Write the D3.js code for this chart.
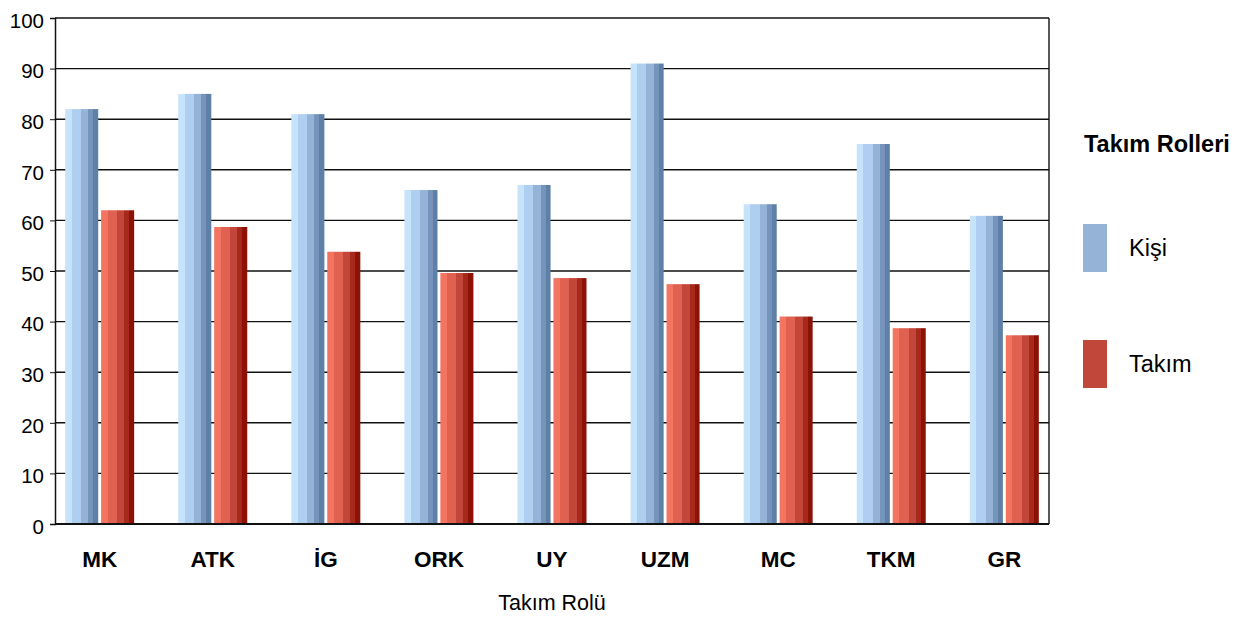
<!DOCTYPE html>
<html><head><meta charset="utf-8">
<script src="https://cdn.jsdelivr.net/npm/d3@7"></script>
<style>body{margin:0;background:#fff;font-family:"Liberation Sans",Arial,sans-serif;}</style>
</head><body>
<svg id="chart" width="1251" height="619"></svg>
<script>
const categories = ["MK","ATK","İG","ORK","UY","UZM","MC","TKM","GR"];
const seriesNames = ["Kişi","Takım"];
const kisiValues = [82,85,81,66,67,91,63.2,75.1,60.9];
const takimValues = [62,58.7,53.8,49.6,48.6,47.4,41,38.7,37.3];
const yTicks = [0,10,20,30,40,50,60,70,80,90,100];
const legendTitle = "Takım Rolleri";
const xTitle = "Takım Rolü";

const svg = d3.select("#chart");
const m = {l:55, r:1049, t:18, b:524};
const x = d3.scaleBand().domain(categories).range([m.l, m.r]).paddingInner(0.39).paddingOuter(0.09);
const xs = d3.scaleBand().domain(seriesNames).range([0, x.bandwidth()]).paddingInner(0.08);
const y = d3.scaleLinear().domain([0,100]).range([m.b, m.t]);

const defs = svg.append("defs");
function stripes(id, cols){
  const g = defs.append("linearGradient").attr("id",id).attr("x1","0").attr("x2","1").attr("y1","0").attr("y2","0");
  const edges=[0,0.2,0.48,0.7,0.85,1];
  cols.forEach((c,i)=>{
    g.append("stop").attr("offset",edges[i]).attr("stop-color",c);
    g.append("stop").attr("offset",edges[i+1]).attr("stop-color",c);
  });
}
stripes("gKisi",["#c6e3fb","#afcff0","#95b3d7","#7494bb","#5f80a6"]);
stripes("gTakim",["#f27461","#e06150","#c2473a","#a6291c","#8c1205"]);

// gridlines
svg.append("g").selectAll("line").data(yTicks).join("line")
  .attr("x1",m.l).attr("x2",m.r).attr("y1",d=>y(d)).attr("y2",d=>y(d))
  .attr("stroke","#111").attr("stroke-width",1.4);
// right frame
svg.append("line").attr("x1",m.r).attr("x2",m.r).attr("y1",m.t).attr("y2",m.b).attr("stroke","#111").attr("stroke-width",1.4);

const data = categories.map((c,i)=>({c, vals:[{s:"Kişi",v:kisiValues[i]},{s:"Takım",v:takimValues[i]}]}));
const grp = svg.append("g").selectAll("g").data(data).join("g").attr("transform",d=>`translate(${x(d.c)},0)`);
grp.selectAll("rect").data(d=>d.vals).join("rect")
  .attr("x",d=>xs(d.s)).attr("width",xs.bandwidth())
  .attr("y",d=>y(d.v)).attr("height",d=>y(0)-y(d.v))
  .attr("fill",d=>d.s==="Kişi"?"url(#gKisi)":"url(#gTakim)");

// y axis
const ya = svg.append("g").attr("transform",`translate(${m.l},0)`)
  .call(d3.axisLeft(y).tickValues(yTicks).tickSize(5).tickPadding(6));
ya.select(".domain").attr("stroke","#111").attr("stroke-width",1.5);
ya.selectAll(".tick line").attr("stroke","#111");
ya.selectAll("text").attr("font-size",20.5).attr("fill","#000").attr("dy","0.45em").attr("font-family","Liberation Sans, Arial, sans-serif");

// x axis baseline
svg.append("line").attr("x1",m.l).attr("x2",m.r).attr("y1",m.b).attr("y2",m.b).attr("stroke","#111").attr("stroke-width",2);

// x labels
svg.append("g").selectAll("text").data(categories).join("text")
  .attr("x",d=>x(d)+x.bandwidth()/2).attr("y",567)
  .attr("text-anchor","middle").attr("font-size",22.5).attr("font-weight","bold").text(d=>d);

svg.append("text").attr("x",(m.l+m.r)/2).attr("y",610).attr("text-anchor","middle").attr("font-size",21.5).text(xTitle);

// legend
svg.append("text").attr("x",1084).attr("y",152).attr("font-size",23.5).attr("font-weight","bold").text(legendTitle);
const legCols = ["#95b3d7","#c0473a"];
const leg = svg.append("g").selectAll("g").data(seriesNames).join("g").attr("transform",(d,i)=>`translate(1083,${224+i*116})`);
leg.append("rect").attr("width",24).attr("height",48).attr("fill",(d,i)=>legCols[i]);
leg.append("text").attr("x",46).attr("y",32).attr("font-size",23.5).text(d=>d);
</script>
</body></html>
